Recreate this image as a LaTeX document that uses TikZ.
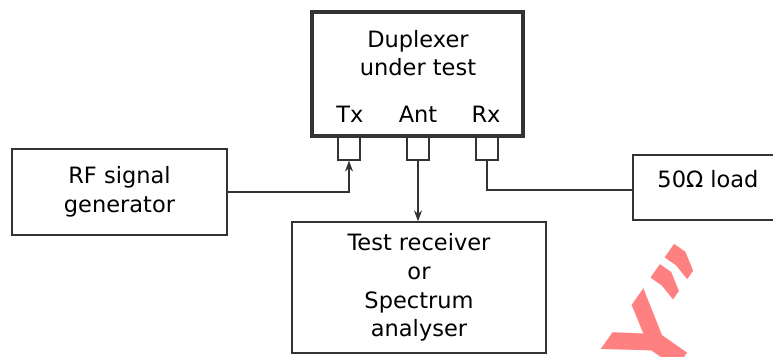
\documentclass[tikz,border=0pt]{standalone}
\usepackage{fontspec}
\setmainfont{DejaVu Sans}
\usetikzlibrary{arrows.meta}

\begin{document}
\begin{tikzpicture}[x=1pt,y=-1pt,
    txt/.style={font=\fontsize{22.5}{28.7}\selectfont},
    box/.style={txt,draw=black!80,line width=1.3pt,inner sep=0pt,align=center},
    port/.style={draw=black!80,line width=1.2pt,minimum width=22pt,minimum height=24pt,inner sep=0pt},
    lbl/.style={txt,anchor=base,inner sep=0pt},
    wire/.style={draw=black!80,line width=1.3pt},
    >={Stealth[length=11pt,width=8pt]}]
  \useasboundingbox (0,0) rectangle (773,356);
  % ports below the duplexer
  \node[port] (txport) at (349,148) {};
  \node[port] (antport) at (418,148) {};
  \node[port] (rxport) at (487,148) {};
  % duplexer
  \node[draw=black!80,line width=3.5pt,minimum width=211pt,minimum height=124pt] (dup) at (417.5,74) {};
  \node[txt,align=center,inner sep=0pt] (title) at (418,53) {Duplexer\\under test};
  \node[lbl] (tx) at (350,122) {Tx};
  \node[lbl] (ant) at (418,122) {Ant};
  \node[lbl] (rx) at (486,122) {Rx};
  % other boxes
  \node[box,minimum width=215pt,minimum height=86pt] (gen) at (119.5,192) {RF signal\\generator};
  \node[box,minimum width=254pt,minimum height=131pt] (rcv) at (419,287.5) {Test receiver\\or\\Spectrum\\analyser};
  \node[box,minimum width=150pt,minimum height=65pt,text height=16pt,text depth=17pt] (load) at (708,187.5) {50Ω load};
  % connections
  \coordinate (txbend) at (txport.south |- gen.east);
  \draw[wire,->] (gen.east) -- (txbend) -- (txport.south);
  \draw[wire,->] (antport.south) -- (antport.south |- rcv.north);
  \coordinate (rxbend) at (rxport.south |- 0,190);
  \draw[wire] (rxport.south) -- (rxbend) -- (rxbend -| load.west);
  % watermark
  \node[red!50,font=\fontsize{100}{100}\selectfont\bfseries,anchor=base west,inner sep=0pt,rotate=55] (mark) at (661,391) {Y\symbol{34}};
\end{tikzpicture}
\end{document}
